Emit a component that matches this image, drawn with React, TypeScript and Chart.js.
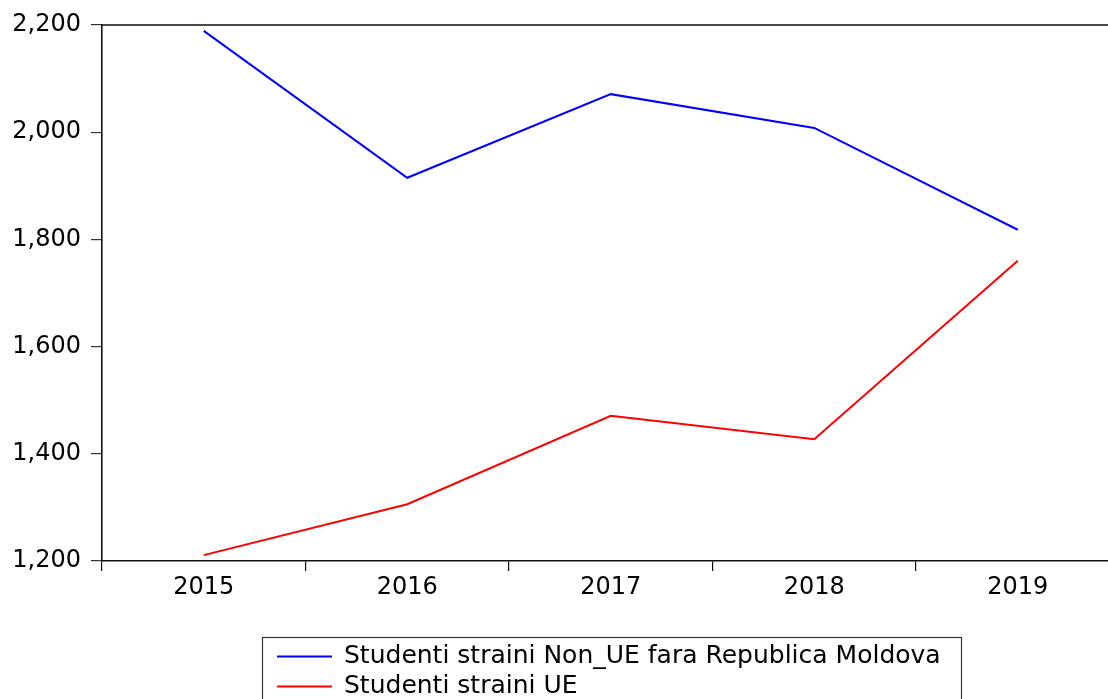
import React, { useEffect, useRef } from "react";
import { Chart, registerables } from "chart.js";

Chart.register(...registerables);

const years = ["2015", "2016", "2017", "2018", "2019"];
const nonUE = [2189, 1915, 2071, 2008, 1818];
const ue = [1211, 1306, 1471, 1427, 1760];
const seriesLabels = ["Studenti straini Non_UE fara Republica Moldova", "Studenti straini UE"];
const seriesColors = ["#0000FF", "#FF0000"];
const yMin = 1200;
const yMax = 2200;
const yStep = 200;

const FONT = "'DejaVu Sans', sans-serif";
const CW = 1140;
const CH = 699;

const framePlugin = {
  id: "frame",
  afterDraw(chart: any) {
    const { ctx, chartArea } = chart;
    ctx.save();
    ctx.strokeStyle = "#111";
    ctx.lineWidth = 1.6;
    ctx.beginPath();
    ctx.moveTo(chartArea.left, chartArea.top);
    ctx.lineTo(chartArea.right, chartArea.top);
    ctx.lineTo(chartArea.right, chartArea.bottom);
    ctx.stroke();

    // legend box
    const bx = 262.5;
    const by = 637.5;
    const bw = 699;
    const bh = 80;
    ctx.lineWidth = 1.2;
    ctx.strokeStyle = "#333";
    ctx.strokeRect(bx, by, bw, bh);
    ctx.font = `25px ${FONT}`;
    ctx.textBaseline = "middle";
    ctx.fillStyle = "#000";
    chart.data.datasets.forEach((ds: any, i: number) => {
      const y = 656.5 + i * 30;
      ctx.strokeStyle = ds.borderColor;
      ctx.lineWidth = 2;
      ctx.beginPath();
      ctx.moveTo(277, y);
      ctx.lineTo(332, y);
      ctx.stroke();
      ctx.fillText(ds.label, 344, y);
    });
    ctx.restore();
  },
};

export default function App() {
  const ref = useRef<HTMLCanvasElement | null>(null);
  useEffect(() => {
    document.body.style.margin = "0";
    document.body.style.overflow = "hidden";
    const canvas = ref.current!;
    const chart = new Chart(canvas, {
      type: "line",
      data: {
        labels: years,
        datasets: [
          {
            label: seriesLabels[0],
            data: nonUE,
            borderColor: seriesColors[0],
            backgroundColor: seriesColors[0],
            borderWidth: 2,
            pointRadius: 0,
            tension: 0,
          },
          {
            label: seriesLabels[1],
            data: ue,
            borderColor: seriesColors[1],
            backgroundColor: seriesColors[1],
            borderWidth: 2,
            pointRadius: 0,
            tension: 0,
          },
        ],
      },
      options: {
        responsive: false,
        animation: false,
        layout: { padding: { top: 25, right: CW - 1119.5, left: 0, bottom: 0 } },
        plugins: { legend: { display: false }, tooltip: { enabled: false } },
        scales: {
          x: {
            type: "category",
            offset: true,
            grid: {
              offset: true,
              drawOnChartArea: false,
              tickLength: 10,
              color: "#111",
              lineWidth: 1.2,
            },
            border: { display: true, color: "#111", width: 1.6 },
            ticks: {
              color: "#000",
              font: { family: FONT, size: 24 },
              padding: 2,
              maxRotation: 0,
              autoSkip: false,
            },
            afterFit(scale: any) {
              scale.height = CH - 561 - 0;
            },
          },
          y: {
            min: yMin,
            max: yMax,
            grid: {
              drawOnChartArea: false,
              tickLength: 11,
              color: "#333",
              lineWidth: 1.2,
            },
            border: { display: true, color: "#111", width: 1.6 },
            ticks: {
              stepSize: yStep,
              color: "#000",
              font: { family: FONT, size: 24 },
              padding: 10,
              callback: (v: any) => Number(v).toLocaleString("en-US"),
            },
            afterFit(scale: any) {
              scale.width = 102;
            },
          },
        },
      },
      plugins: [framePlugin],
    });
    return () => chart.destroy();
  }, []);

  return (
    <div
      style={{
        position: "fixed",
        left: 0,
        top: 0,
        width: 1108,
        height: 699,
        overflow: "hidden",
        background: "#fff",
      }}
    >
      <canvas ref={ref} width={CW} height={CH} style={{ position: "absolute", left: 0, top: 0 }} />
    </div>
  );
}
